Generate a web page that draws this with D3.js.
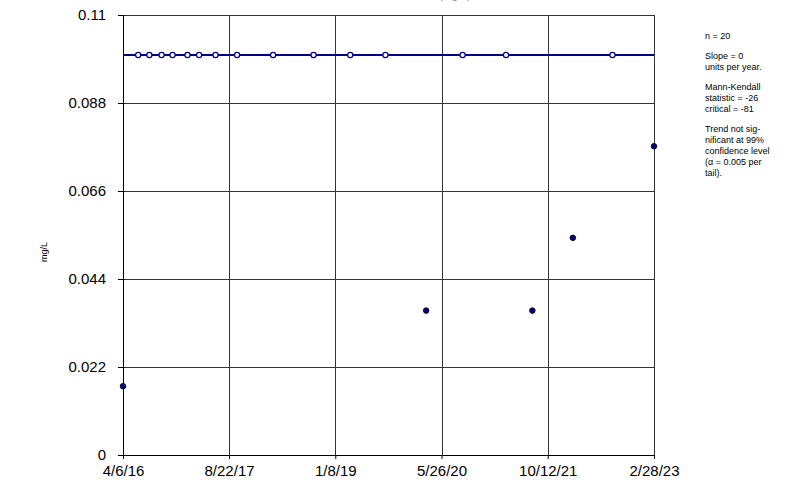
<!DOCTYPE html>
<html>
<head>
<meta charset="utf-8">
<script src="https://cdn.jsdelivr.net/npm/d3@7"></script>
<style>
  body { margin: 0; background: #fff; }
  svg { font-family: Arial, "Liberation Sans", sans-serif; }
</style>
</head>
<body>
<div id="chart"></div>
<script>
// donnees
const detectDates = ["2016-04-06", "2020-03-14", "2021-07-31", "2022-02-08", "2023-02-28"];
const detectValues = [0.0172, 0.0361, 0.0361, 0.0543, 0.0772];

// non-detects (cercles ouverts) a la limite 0.1
const ndDates = ["2016-06-17", "2016-08-09", "2016-10-06", "2016-11-27", "2017-02-06",
  "2017-04-02", "2017-06-19", "2017-09-29", "2018-03-19", "2018-09-27",
  "2019-03-20", "2019-09-03", "2020-09-03", "2021-03-28", "2022-08-15"];
const ndValues = [0.1, 0.1, 0.1, 0.1, 0.1, 0.1, 0.1, 0.1, 0.1, 0.1, 0.1, 0.1, 0.1, 0.1, 0.1];

// ligne de tendance (pente 0)
const trendDates = ["2016-04-06", "2023-02-28"];
const trendValues = [0.1, 0.1];

const xTickDates = ["2016-04-06", "2017-08-22", "2019-01-08", "2020-05-26", "2021-10-12", "2023-02-28"];
const xTickLabels = ["4/6/16", "8/22/17", "1/8/19", "5/26/20", "10/12/21", "2/28/23"];
const yTicks = [0, 0.022, 0.044, 0.066, 0.088, 0.11];
const yTickLabels = ["0", "0.022", "0.044", "0.066", "0.088", "0.11"];

const statsText = [
  ["n = 20"],
  ["Slope = 0", "units per year."],
  ["Mann-Kendall", "statistic = -26", "critical = -81"],
  ["Trend not sig-", "nificant at 99%", "confidence level", "(\u03b1 = 0.005 per", "tail)."]
];

const W = 791, H = 488;
const margin = {top: 15, right: 137, bottom: 33, left: 123};
const navy = "#000080";

const parse = d3.timeParse("%Y-%m-%d");

const svg = d3.select("#chart").append("svg")
  .attr("width", W).attr("height", H);

const x = d3.scaleTime()
  .domain([parse(xTickDates[0]), parse(xTickDates[xTickDates.length - 1])])
  .range([margin.left, W - margin.right]);
const y = d3.scaleLinear()
  .domain([0, 0.11])
  .range([H - margin.bottom, margin.top]);

// titre coupe en haut (comme sur l'original)
svg.append("text")
  .attr("x", 455).attr("y", -1)
  .attr("text-anchor", "middle")
  .style("font-size", "11px")
  .attr("fill", "#888")
  .text("(mg/L)");

// grille
const grid = svg.append("g").attr("stroke", "#333").attr("stroke-width", 1);
grid.selectAll("line.v")
  .data(xTickDates)
  .join("line")
    .attr("class", "v")
    .attr("x1", d => Math.round(x(parse(d))) + 0.5)
    .attr("x2", d => Math.round(x(parse(d))) + 0.5)
    .attr("y1", y(0.11)).attr("y2", y(0));
grid.selectAll("line.h")
  .data(yTicks)
  .join("line")
    .attr("class", "h")
    .attr("x1", x.range()[0]).attr("x2", x.range()[1])
    .attr("y1", d => Math.round(y(d)) + 0.5)
    .attr("y2", d => Math.round(y(d)) + 0.5);

// axes
const xAxis = d3.axisBottom(x)
  .tickValues(xTickDates.map(parse))
  .tickFormat((d, i) => xTickLabels[i])
  .tickSize(4)
  .tickPadding(6);
svg.append("g")
  .attr("transform", `translate(0,${y(0)})`)
  .call(xAxis)
  .call(g => g.select(".domain").attr("stroke", "#000").attr("d", `M${x.range()[0]},0.5H${x.range()[1]}`))
  .call(g => g.selectAll("text").style("font-size", "15px").attr("fill", "#000"));

const yAxis = d3.axisLeft(y)
  .tickValues(yTicks)
  .tickFormat((d, i) => yTickLabels[i])
  .tickSize(5)
  .tickPadding(12);
svg.append("g")
  .attr("transform", `translate(${x.range()[0]},0)`)
  .call(yAxis)
  .call(g => g.select(".domain").attr("stroke", "#000").attr("d", `M0.5,${y(0.11)}V${y(0)}`))
  .call(g => g.selectAll("text").style("font-size", "15px").attr("fill", "#000"));

// titre axe y
svg.append("text")
  .attr("transform", `translate(47,252) rotate(-90)`)
  .attr("text-anchor", "middle")
  .style("font-size", "9px")
  .text("mg/L");

// ligne de tendance
const trend = trendDates.map((d, i) => ({date: parse(d), v: trendValues[i]}));
svg.append("path")
  .datum(trend)
  .attr("fill", "none")
  .attr("stroke", navy)
  .attr("stroke-width", 2.2)
  .attr("d", d3.line().x(d => x(d.date)).y(d => y(d.v)));

// non-detects
svg.append("g").selectAll("circle")
  .data(ndDates.map((d, i) => ({date: parse(d), v: ndValues[i]})))
  .join("circle")
    .attr("cx", d => x(d.date))
    .attr("cy", d => y(d.v))
    .attr("r", 2.6)
    .attr("fill", "#fff")
    .attr("stroke", navy)
    .attr("stroke-width", 1.2);

// detections
svg.append("g").selectAll("circle")
  .data(detectDates.map((d, i) => ({date: parse(d), v: detectValues[i]})))
  .join("circle")
    .attr("cx", d => x(d.date))
    .attr("cy", d => y(d.v))
    .attr("r", 2.8)
    .attr("fill", navy)
    .attr("stroke", "#000")
    .attr("stroke-width", 0.8);

// texte stats a droite
const st = svg.append("g").style("font-size", "9px").attr("fill", "#000");
let yy = 39;
statsText.forEach(block => {
  block.forEach(line => {
    st.append("text").attr("x", 705).attr("y", yy).text(line);
    yy += 11;
  });
  yy += 9;
});
</script>
</body>
</html>
